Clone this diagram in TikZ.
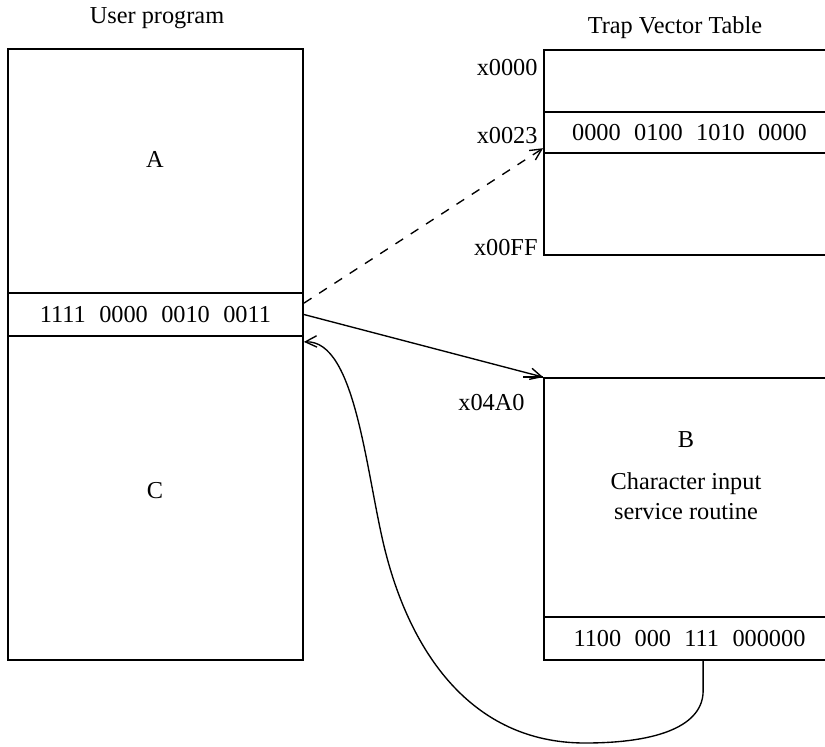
\documentclass[tikz,border=0pt]{standalone}
\usepackage{fontspec}
\setmainfont{Liberation Serif}
\usetikzlibrary{arrows.meta}

\newcommand{\pxu}{0.44pt}

\begin{document}
\begin{tikzpicture}[
  x=\pxu, y=-\pxu,
  >={Straight Barb[length=5pt, width=5pt]},
  every node/.style={font=\fontsize{10.7}{13.4}\selectfont},
  cell/.style={draw, line width=0.8pt, inner sep=0pt, minimum width=295*\pxu},
  tcell/.style={draw, line width=0.8pt, inner sep=0pt, minimum width=291*\pxu},
  addr/.style={anchor=east, inner sep=0pt},
  arr/.style={->, line width=0.6pt}
]
\clip (0,0) rectangle (825,746);

%--- User program ---
\node (utitle) at (157,18) {User program};
\node[cell, minimum height=244*\pxu] (progA) at (155.5,171) {};
\node[cell, minimum height=43*\pxu] (instr) at (155.5,314.5) {1111\hspace{0.55em}0000\hspace{0.55em}0010\hspace{0.55em}0011};
\node[cell, minimum height=324*\pxu] (progC) at (155.5,498) {};
\node (lblA) at (155,159) {A};
\node (lblC) at (155,491) {C};

%--- Trap vector table ---
\node (ttitle) at (675,28) {Trap Vector Table};
\node[tcell, minimum height=62*\pxu] (tvTop) at (689.5,81) {};
\node[tcell, minimum height=41*\pxu] (tvEntry) at (689.5,132.5) {0000\hspace{0.55em}0100\hspace{0.55em}1010\hspace{0.55em}0000};
\node[tcell, minimum height=102*\pxu] (tvRest) at (689.5,204) {};
\node[addr] (a0000) at (538,68) {x0000};
\node[addr] (a0023) at (538,136) {x0023};
\node[addr] (a00FF) at (538,248) {x00FF};

%--- Service routine ---
\node[tcell, minimum height=239*\pxu] (svc) at (689.5,497.5) {};
\node[tcell, minimum height=43*\pxu] (ret) at (689.5,638.5) {1100\hspace{0.55em}000\hspace{0.55em}111\hspace{0.55em}000000};
\node[addr] (a04A0) at (525,403) {x04A0};
\node (lblB) at (686,440) {B};
\node[align=center] (svcname) at (686,496) {Character input\\service routine};
\draw[line width=0.8pt] (svc.north west) -- ++(-20,0);

%--- Connectors ---
\draw[arr, dash pattern=on 4pt off 4pt] ([yshift=5pt]instr.east) -- ([yshift=2.5pt]tvEntry.south west);
\draw[arr] (instr.east) -- (svc.north west);
\draw[arr] ([xshift=6pt]ret.south) -- ++(0,30)
  .. controls (703,725) and (660,743) .. (585,743)
  .. controls (470,743) and (410,650) .. (385,550)
  .. controls (366,474) and (356,340) .. ([yshift=-3pt]progC.north east);

\end{tikzpicture}
\end{document}
